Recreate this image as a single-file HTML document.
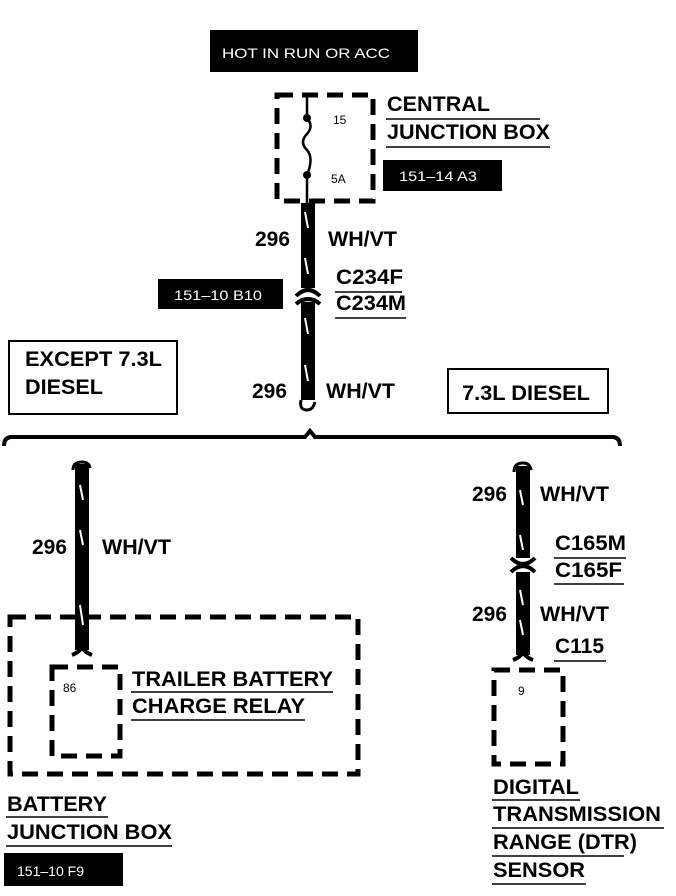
<!DOCTYPE html>
<html><head><style>
html,body{margin:0;padding:0;background:#fff;}
svg{display:block;}
text{font-family:"Liberation Sans",Arial,sans-serif;}
.b{font-weight:bold;font-size:21px;fill:#000;}
.s{font-size:14px;fill:#fff;}
.n{font-size:12px;fill:#000;}
.u{stroke:#000;stroke-width:1.5;}
.d{fill:none;stroke:#000;stroke-width:5;stroke-dasharray:16,9;}
.w{stroke:#000;stroke-width:14;}
.wd{stroke:#fff;stroke-width:2;}
</style></head><body>
<svg width="676" height="896" viewBox="0 0 676 896" xmlns="http://www.w3.org/2000/svg">
<rect x="210" y="30" width="208" height="42" fill="#000"/>
<text x="222" y="58" class="s" textLength="168" lengthAdjust="spacingAndGlyphs">HOT IN RUN OR ACC</text>

<rect x="277" y="95" width="96" height="106" class="d"/>
<line x1="307" y1="95" x2="307" y2="118" stroke="#000" stroke-width="2.5"/>
<path d="M307 118 q7 8 0 16 q-8 8 0 16 q7 8 0 25" fill="none" stroke="#000" stroke-width="2.5"/>
<circle cx="307" cy="118" r="4"/>
<circle cx="307" cy="175" r="4"/>
<line x1="307" y1="175" x2="307" y2="203" stroke="#000" stroke-width="2.5"/>
<text x="333" y="124" class="n">15</text>
<text x="331" y="183" class="n">5A</text>
<text x="387" y="111" class="b" textLength="103" lengthAdjust="spacingAndGlyphs">CENTRAL</text>
<line x1="386" y1="119" x2="540" y2="119" class="u"/>
<text x="387" y="139" class="b" textLength="163" lengthAdjust="spacingAndGlyphs">JUNCTION BOX</text>
<line x1="386" y1="147" x2="550" y2="147" class="u"/>
<rect x="383" y="160" width="119" height="31" fill="#000"/>
<text x="399" y="181" class="s" textLength="78" lengthAdjust="spacingAndGlyphs">151–14 A3</text>

<line x1="308" y1="203" x2="308" y2="288" class="w"/>
<line x1="308" y1="302" x2="308" y2="400" class="w"/>
<line x1="305" y1="212" x2="308" y2="228" class="wd"/>
<line x1="305" y1="258" x2="308" y2="274" class="wd"/>
<line x1="305" y1="318" x2="308" y2="334" class="wd"/>
<line x1="305" y1="365" x2="308" y2="381" class="wd"/>
<path d="M296 296 q12 -12 24 0" fill="none" stroke="#000" stroke-width="4"/>
<path d="M296 304 q12 -10 24 0" fill="none" stroke="#000" stroke-width="4"/>
<path d="M301 400 q-2 10 6 10 q6 0 8 -8" fill="none" stroke="#000" stroke-width="3"/>
<text x="255" y="246" class="b" textLength="35" lengthAdjust="spacingAndGlyphs">296</text>
<text x="328" y="246" class="b" textLength="69" lengthAdjust="spacingAndGlyphs">WH/VT</text>
<text x="336" y="284" class="b" textLength="67" lengthAdjust="spacingAndGlyphs">C234F</text>
<line x1="335" y1="292" x2="402" y2="292" class="u"/>
<text x="336" y="310" class="b" textLength="70" lengthAdjust="spacingAndGlyphs">C234M</text>
<line x1="335" y1="318" x2="406" y2="318" class="u"/>
<rect x="158" y="279" width="125" height="30" fill="#000"/>
<text x="174" y="300" class="s" textLength="88" lengthAdjust="spacingAndGlyphs">151–10 B10</text>

<rect x="9" y="341" width="168" height="73" fill="none" stroke="#000" stroke-width="2"/>
<text x="25" y="366" class="b" textLength="137" lengthAdjust="spacingAndGlyphs">EXCEPT 7.3L</text>
<text x="25" y="394" class="b" textLength="78" lengthAdjust="spacingAndGlyphs">DIESEL</text>
<text x="252" y="398" class="b" textLength="35" lengthAdjust="spacingAndGlyphs">296</text>
<text x="326" y="398" class="b" textLength="69" lengthAdjust="spacingAndGlyphs">WH/VT</text>
<rect x="448" y="369" width="160" height="44" fill="none" stroke="#000" stroke-width="2"/>
<text x="462" y="400" class="b" textLength="128" lengthAdjust="spacingAndGlyphs">7.3L DIESEL</text>

<path d="M4 446 q0 -9 8 -9 L305 437 L310 431 L315 437 L612 437 q8 0 8 9" fill="none" stroke="#000" stroke-width="4"/>

<path d="M73 470 q0 -8 9 -8 q7 0 8 6" fill="none" stroke="#000" stroke-width="3"/>
<line x1="82" y1="464" x2="82" y2="650" class="w"/>
<line x1="80" y1="485" x2="83" y2="500" class="wd"/>
<line x1="80" y1="530" x2="83" y2="545" class="wd"/>
<line x1="80" y1="605" x2="83" y2="625" class="wd"/>
<path d="M72 655 q10 -4 10 -10 q0 6 10 10" fill="none" stroke="#000" stroke-width="4"/>
<text x="32" y="554" class="b" textLength="35" lengthAdjust="spacingAndGlyphs">296</text>
<text x="102" y="554" class="b" textLength="69" lengthAdjust="spacingAndGlyphs">WH/VT</text>
<rect x="10" y="617" width="348" height="157" class="d"/>
<rect x="52" y="667" width="68" height="89" class="d"/>
<text x="63" y="692" class="n">86</text>
<text x="132" y="686" class="b" textLength="201" lengthAdjust="spacingAndGlyphs">TRAILER BATTERY</text>
<line x1="131" y1="692" x2="333" y2="692" class="u"/>
<text x="132" y="713" class="b" textLength="173" lengthAdjust="spacingAndGlyphs">CHARGE RELAY</text>
<line x1="131" y1="720" x2="305" y2="720" class="u"/>
<text x="7" y="811" class="b" textLength="100" lengthAdjust="spacingAndGlyphs">BATTERY</text>
<line x1="6" y1="817" x2="108" y2="817" class="u"/>
<text x="7" y="839" class="b" textLength="165" lengthAdjust="spacingAndGlyphs">JUNCTION BOX</text>
<line x1="6" y1="846" x2="172" y2="846" class="u"/>
<rect x="4" y="853" width="119" height="33" fill="#000"/>
<text x="17" y="876" class="s" textLength="67" lengthAdjust="spacingAndGlyphs">151–10 F9</text>

<path d="M514 472 q0 -9 9 -9 q7 0 8 7" fill="none" stroke="#000" stroke-width="3"/>
<line x1="523" y1="466" x2="523" y2="558" class="w"/>
<line x1="523" y1="572" x2="523" y2="655" class="w"/>
<line x1="520" y1="490" x2="523" y2="505" class="wd"/>
<line x1="520" y1="535" x2="523" y2="550" class="wd"/>
<line x1="520" y1="590" x2="523" y2="605" class="wd"/>
<line x1="520" y1="620" x2="523" y2="635" class="wd"/>
<path d="M511 558 q12 12 24 0" fill="none" stroke="#000" stroke-width="4"/>
<path d="M511 572 q12 -12 24 0" fill="none" stroke="#000" stroke-width="4"/>
<path d="M513 660 q10 -4 10 -10 q0 6 10 10" fill="none" stroke="#000" stroke-width="4"/>
<text x="472" y="501" class="b" textLength="35" lengthAdjust="spacingAndGlyphs">296</text>
<text x="540" y="501" class="b" textLength="69" lengthAdjust="spacingAndGlyphs">WH/VT</text>
<text x="555" y="550" class="b" textLength="71" lengthAdjust="spacingAndGlyphs">C165M</text>
<line x1="554" y1="558" x2="626" y2="558" class="u"/>
<text x="555" y="577" class="b" textLength="67" lengthAdjust="spacingAndGlyphs">C165F</text>
<line x1="554" y1="584" x2="624" y2="584" class="u"/>
<text x="472" y="621" class="b" textLength="35" lengthAdjust="spacingAndGlyphs">296</text>
<text x="540" y="621" class="b" textLength="69" lengthAdjust="spacingAndGlyphs">WH/VT</text>
<text x="555" y="653" class="b" textLength="49" lengthAdjust="spacingAndGlyphs">C115</text>
<line x1="554" y1="661" x2="606" y2="661" class="u"/>
<rect x="494" y="670" width="69" height="94" class="d"/>
<text x="518" y="695" class="n">9</text>
<text x="493" y="794" class="b" textLength="86" lengthAdjust="spacingAndGlyphs">DIGITAL</text>
<line x1="492" y1="800" x2="580" y2="800" class="u"/>
<text x="493" y="821" class="b" textLength="168" lengthAdjust="spacingAndGlyphs">TRANSMISSION</text>
<line x1="492" y1="828" x2="664" y2="828" class="u"/>
<text x="493" y="849" class="b" textLength="144" lengthAdjust="spacingAndGlyphs">RANGE (DTR)</text>
<line x1="492" y1="856" x2="624" y2="856" class="u"/>
<text x="493" y="877" class="b" textLength="92" lengthAdjust="spacingAndGlyphs">SENSOR</text>
<line x1="492" y1="884" x2="586" y2="884" class="u"/>
</svg>
</body></html>
